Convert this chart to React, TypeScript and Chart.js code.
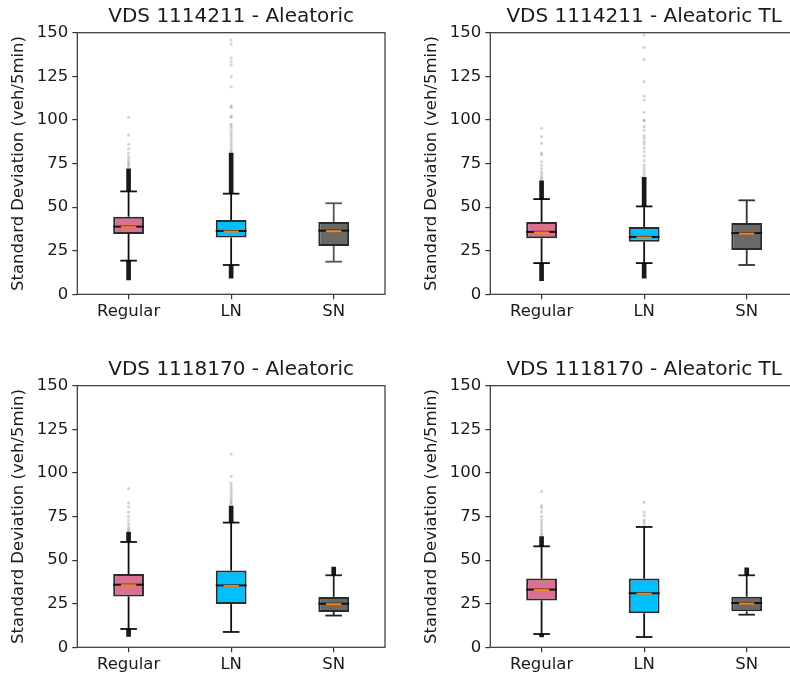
import React, { useEffect, useRef } from 'react';
import { Chart, registerables } from 'chart.js';

Chart.register(...registerables);

// ---------------- data ----------------
const categories = ['Regular', 'LN', 'SN'];
const titles = [
  'VDS 1114211 - Aleatoric',
  'VDS 1114211 - Aleatoric TL',
  'VDS 1118170 - Aleatoric',
  'VDS 1118170 - Aleatoric TL',
];
const yMin = 0;
const yMax = 150;
const yStep = 25;
const yLabel = 'Standard Deviation (veh/5min)';

// per panel, per category [Regular, LN, SN]
const whiskerLow = [
  [19.3, 16.8, 18.7],
  [17.9, 17.9, 16.8],
  [10.5, 8.8, 18.2],
  [7.6, 5.9, 18.7],
];
const q1 = [
  [34.6, 32.5, 27.7],
  [32.1, 30.2, 25.4],
  [29.2, 24.8, 20.3],
  [26.9, 19.5, 20.6],
];
const medians = [
  [38.8, 36.3, 36.5],
  [35.8, 32.9, 35.1],
  [35.9, 35.5, 25.0],
  [33.1, 31.0, 25.4],
];
const q3 = [
  [44.5, 42.6, 41.5],
  [41.5, 38.6, 40.9],
  [42.0, 44.0, 28.9],
  [39.4, 39.4, 29.0],
];
const whiskerHigh = [
  [59.0, 57.7, 52.2],
  [54.6, 50.4, 53.9],
  [60.4, 71.5, 41.3],
  [57.9, 69.0, 41.3],
];
// dense runs of outliers (many overlapping points) [from, to]
const lowOutlierRuns = [
  [[8.2, 19.3], [9.2, 16.8], null],
  [[7.8, 17.9], [9.2, 17.9], null],
  [[6.3, 10.5], null, null],
  [[5.9, 7.6], null, null],
];
const highOutlierRuns = [
  [[59.0, 72.0], [57.7, 81.0], null],
  [[54.6, 65.0], [50.4, 67.0], null],
  [[60.4, 66.0], [71.5, 81.0], [41.3, 46.0]],
  [[57.9, 63.5], null, [41.3, 45.5]],
];
// individual outliers
const sparseOutliers = [
  [
    [101.5, 91.3, 86.0, 83.5, 81.0, 79.0, 77.5, 76.0, 75.0, 74.0, 73.0],
    [145.8, 143.5, 135.5, 133.5, 131.5, 124.8, 119.0, 108.0, 107.0, 102.2, 101.5, 97.5, 96.5, 95.2, 93.5, 92.0, 90.5, 89.0, 87.5, 86.0, 84.5, 83.0, 82.0],
    [],
  ],
  [
    [95.2, 90.4, 86.5, 81.0, 80.0, 76.0, 74.0, 72.0, 70.0, 68.5, 67.0, 66.0],
    [148.7, 141.6, 134.7, 121.9, 113.7, 111.4, 104.3, 99.9, 99.5, 96.1, 94.0, 90.8, 89.4, 87.5, 86.2, 84.0, 81.8, 79.3, 76.6, 74.1, 72.5, 71.0, 69.5, 68.0],
    [],
  ],
  [
    [91.0, 82.7, 80.5, 77.5, 75.0, 73.0, 71.0, 69.5, 68.0, 67.0],
    [110.8, 98.0, 94.0, 92.5, 91.0, 89.5, 88.0, 86.5, 85.0, 84.0, 83.0, 82.0],
    [],
  ],
  [
    [89.4, 81.2, 80.0, 77.6, 75.0, 73.0, 71.5, 70.0, 68.5, 67.0, 65.5, 64.5],
    [83.1, 77.5, 75.5, 73.0, 72.0, 70.5],
    [],
  ],
];

// ---------------- styles ----------------
const boxColors = ['#DB7093', '#00BFFF', '#696969'];
const whiskerColors = [
  ['#111111', '#111111', '#555555'],
  ['#111111', '#111111', '#333333'],
  ['#111111', '#111111', '#222222'],
  ['#111111', '#111111', '#222222'],
];
const FONT = 'DejaVu Sans';
const TEXT = '#1a1a1a';
const panelPos = [
  { left: 0, top: 0 },
  { left: 413.4, top: 0 },
  { left: 0, top: 353.4 },
  { left: 413.4, top: 353.4 },
];
const CANVAS_W = 395;
const CANVAS_H = 330;

function makePlugin(p: number) {
  const BOX_DS = 2;
  const line = (ctx: CanvasRenderingContext2D, x1: number, y1: number, x2: number, y2: number) => {
    ctx.beginPath();
    ctx.moveTo(x1, y1);
    ctx.lineTo(x2, y2);
    ctx.stroke();
  };
  return {
    id: 'boxExtras' + p,
    beforeDatasetsDraw(chart: any) {
      const ctx = chart.ctx as CanvasRenderingContext2D;
      const x = chart.scales.x;
      const y = chart.scales.y;
      const meta = chart.getDatasetMeta(BOX_DS);
      ctx.save();
      categories.forEach((_, i) => {
        const el = meta.data[i];
        const w = el ? el.width : 30;
        const cx = x.getPixelForValue(i);
        ctx.strokeStyle = whiskerColors[p][i];
        ctx.lineWidth = 1.8;
        const yq3 = y.getPixelForValue(q3[p][i]);
        const yq1 = y.getPixelForValue(q1[p][i]);
        const yHi = y.getPixelForValue(whiskerHigh[p][i]);
        const yLo = y.getPixelForValue(whiskerLow[p][i]);
        line(ctx, cx, yq3, cx, yHi);
        line(ctx, cx, yq1, cx, yLo);
        line(ctx, cx - w * 0.27, yHi, cx + w * 0.27, yHi);
        line(ctx, cx - w * 0.27, yLo, cx + w * 0.27, yLo);
      });
      ctx.restore();
    },
    afterDatasetsDraw(chart: any) {
      const ctx = chart.ctx as CanvasRenderingContext2D;
      const x = chart.scales.x;
      const y = chart.scales.y;
      const meta = chart.getDatasetMeta(BOX_DS);
      ctx.save();
      categories.forEach((_, i) => {
        const el = meta.data[i];
        const w = el ? el.width : 30;
        const cx = x.getPixelForValue(i);
        const ym = y.getPixelForValue(medians[p][i]);
        ctx.strokeStyle = '#111111';
        ctx.lineWidth = 2;
        line(ctx, cx - w / 2, ym, cx + w / 2, ym);
        ctx.strokeStyle = '#ff7f0e';
        ctx.lineWidth = 2;
        line(ctx, cx - w / 4, ym + 0.5, cx + w / 4, ym + 0.5);
      });
      const a = chart.chartArea;
      ctx.strokeStyle = '#333333';
      ctx.lineWidth = 1.2;
      ctx.strokeRect(a.left, a.top, a.right - a.left, a.bottom - a.top);
      ctx.restore();
    },
  };
}

function Panel({ p }: { p: number }) {
  const ref = useRef<HTMLCanvasElement | null>(null);
  useEffect(() => {
    if (!ref.current) return;
    const fliers: { x: string; y: number }[] = [];
    sparseOutliers[p].forEach((vals, i) => vals.forEach((v) => fliers.push({ x: categories[i], y: v })));
    const chart = new Chart(ref.current, {
      type: 'bar',
      data: {
        labels: categories,
        datasets: [
          {
            type: 'bar',
            data: lowOutlierRuns[p] as any,
            backgroundColor: 'rgba(0,0,0,0.9)',
            borderWidth: 0,
            barThickness: 4,
            grouped: false,
            order: 3,
          },
          {
            type: 'bar',
            data: highOutlierRuns[p] as any,
            backgroundColor: 'rgba(0,0,0,0.9)',
            borderWidth: 0,
            barThickness: 4,
            grouped: false,
            order: 3,
          },
          {
            type: 'bar',
            data: categories.map((_, i) => [q1[p][i], q3[p][i]]) as any,
            backgroundColor: boxColors,
            borderColor: '#2a2a2a',
            borderWidth: 2,
            borderSkipped: false,
            barPercentage: 0.3,
            categoryPercentage: 1,
            grouped: false,
            order: 1,
          },
          {
            type: 'line',
            data: fliers as any,
            showLine: false,
            pointRadius: 1.6,
            pointBorderWidth: 0,
            pointBackgroundColor: 'rgba(0,0,0,0.17)',
            pointBorderColor: 'rgba(0,0,0,0)',
            order: 0,
          } as any,
        ],
      },
      options: {
        animation: false,
        responsive: false,
        events: [],
        layout: { padding: { left: 0, right: 10, top: 0, bottom: 0 } },
        plugins: {
          legend: { display: false },
          tooltip: { enabled: false },
          title: {
            display: true,
            text: titles[p],
            fullSize: false,
            color: TEXT,
            font: { family: FONT, size: 20, weight: 'normal', lineHeight: 1.2 },
            padding: { top: 4.7, bottom: 4 },
          },
        },
        scales: {
          x: {
            type: 'category',
            offset: true,
            border: { display: false },
            grid: { display: true, offset: false, drawOnChartArea: false, drawTicks: true, tickLength: 5, tickColor: '#333333', lineWidth: 1.2 },
            ticks: { color: TEXT, font: { family: FONT, size: 16.5 }, padding: 3, maxRotation: 0 },
            afterFit: (s: any) => {
              s.height = 35.7;
            },
          },
          y: {
            type: 'linear',
            min: yMin,
            max: yMax,
            border: { display: false },
            grid: { display: true, drawOnChartArea: false, drawTicks: true, tickLength: 5, tickColor: '#333333', lineWidth: 1.2 },
            ticks: { stepSize: yStep, color: TEXT, font: { family: FONT, size: 16.5 }, padding: 4 },
            title: {
              display: true,
              text: yLabel,
              color: TEXT,
              font: { family: FONT, size: 16.5, lineHeight: 1.2 },
              padding: { top: 8.6, bottom: 0 },
            },
            afterFit: (s: any) => {
              s.width = 77.3;
            },
          },
        },
      } as any,
      plugins: [makePlugin(p)],
    });
    return () => chart.destroy();
  }, [p]);
  const pos = panelPos[p];
  return (
    <canvas
      ref={ref}
      width={CANVAS_W}
      height={CANVAS_H}
      style={{ position: 'absolute', left: pos.left, top: pos.top, width: CANVAS_W, height: CANVAS_H }}
    />
  );
}

export default function App() {
  return (
    <div
      style={{
        position: 'absolute',
        left: 0,
        top: 0,
        width: 790,
        height: 677,
        overflow: 'hidden',
        background: '#ffffff',
      }}
    >
      {titles.map((_, p) => (
        <Panel key={p} p={p} />
      ))}
    </div>
  );
}
